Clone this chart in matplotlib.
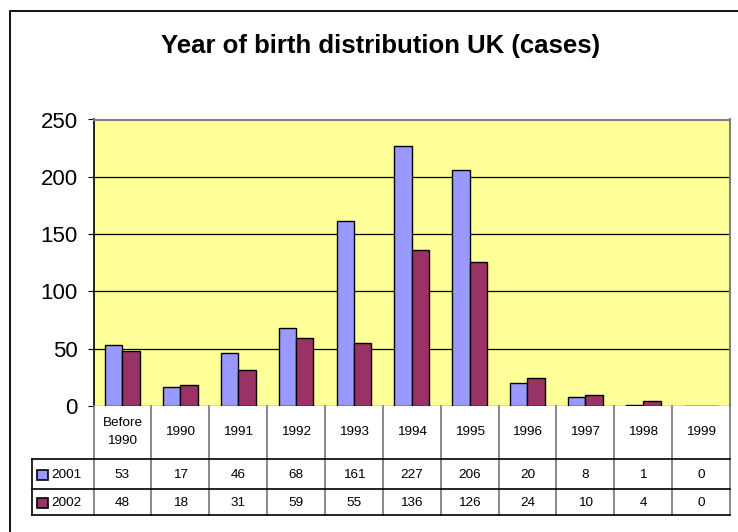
import matplotlib.pyplot as plt
import numpy as np

# data
categories = ["Before\n1990", "1990", "1991", "1992", "1993", "1994",
              "1995", "1996", "1997", "1998", "1999"]
series_names = ["2001", "2002"]
cases_2001 = [53, 17, 46, 68, 161, 227, 206, 20, 8, 1, 0]
cases_2002 = [48, 18, 31, 59, 55, 136, 126, 24, 10, 4, 0]
colors = ["#9999FF", "#993366"]

plt.rcParams['font.family'] = ['Liberation Sans', 'DejaVu Sans']

W, H = 738, 532
fig = plt.figure(figsize=(W / 100, H / 100), dpi=100)

# pixel layout
px_left, px_right = 93.5, 730
px_top, px_zero = 119.5, 406
px_tab_bottom = 515
px_lab_left = 32
row_lines = [459, 489, 515]


def frac(x0, y0, x1, y1):
    return [x0 / W, 1 - y1 / H, (x1 - x0) / W, (y1 - y0) / H]


# outer chart frame (runs off right and bottom)
fig.patches.append(plt.Rectangle((9.5 / W, -0.05), 1.0, 1 - 11 / H + 0.05,
                                 transform=fig.transFigure, fill=False,
                                 edgecolor="black", linewidth=1.3))

fig.text(381 / W, 1 - 46 / H, "Year of birth distribution UK (cases)",
         ha="center", va="center", fontsize=18.5, fontweight="bold")

ax = fig.add_axes(frac(px_left, px_top, px_right, px_zero))
x = np.arange(len(categories))
bw = 0.3
ax.bar(x - bw / 2, cases_2001, bw, color=colors[0], edgecolor="black", linewidth=1, zorder=3)
ax.bar(x + bw / 2, cases_2002, bw, color=colors[1], edgecolor="black", linewidth=1, zorder=3)
ax.set_xlim(-0.5, len(categories) - 0.5)
ax.set_ylim(0, 250)
ax.set_facecolor("#FFFF99")
ax.set_yticks(range(0, 251, 50))
ax.yaxis.grid(True, color="black", linewidth=0.9, zorder=1)
ax.set_axisbelow(True)
ax.set_xticks([])
ax.tick_params(axis="y", labelsize=16, length=4.3, direction="out", pad=7)
for s in ["top", "right"]:
    ax.spines[s].set_color("#808080")
    ax.spines[s].set_linewidth(1.5)
ax.spines["left"].set_linewidth(1.2)
ax.spines["bottom"].set_visible(False)

# data table under the plot, x in category units, y in pixels
tab = fig.add_axes(frac(px_left, px_zero, px_right, px_tab_bottom))
tab.set_xlim(-0.5, len(categories) - 0.5)
tab.set_ylim(px_tab_bottom, px_zero)
tab.axis("off")
unit = (px_right - px_left) / len(categories)
x_lab = -0.5 - (px_left - px_lab_left) / unit

for i in range(len(categories) + 1):
    tab.plot([i - 0.5, i - 0.5], [px_zero, px_tab_bottom], color="#808080",
             linewidth=1.3, clip_on=False)
tab.plot([x_lab, x_lab], [row_lines[0], px_tab_bottom], color="black",
         linewidth=1.2, clip_on=False)
for y in row_lines:
    tab.plot([x_lab, len(categories) - 0.5], [y, y], color="black",
             linewidth=1.2, clip_on=False)

for i, c in enumerate(categories):
    tab.text(i, 432, c, ha="center", va="center", fontsize=9.7, linespacing=1.6)
for rows, yc in [(cases_2001, 475), (cases_2002, 503)]:
    for i, v in enumerate(rows):
        tab.text(i, yc, str(v), ha="center", va="center", fontsize=9.7)

for name, col, yc in zip(series_names, colors, [475, 503]):
    sq = 10.5 / unit
    tab.add_patch(plt.Rectangle((x_lab + 5 / unit, yc + 5.25), sq, -10.5,
                                facecolor=col, edgecolor="black",
                                linewidth=1.2, clip_on=False))
    tab.text(x_lab + 19 / unit, yc, name, ha="left", va="center",
             fontsize=9.7)

fig.savefig("out.png", dpi=100)
